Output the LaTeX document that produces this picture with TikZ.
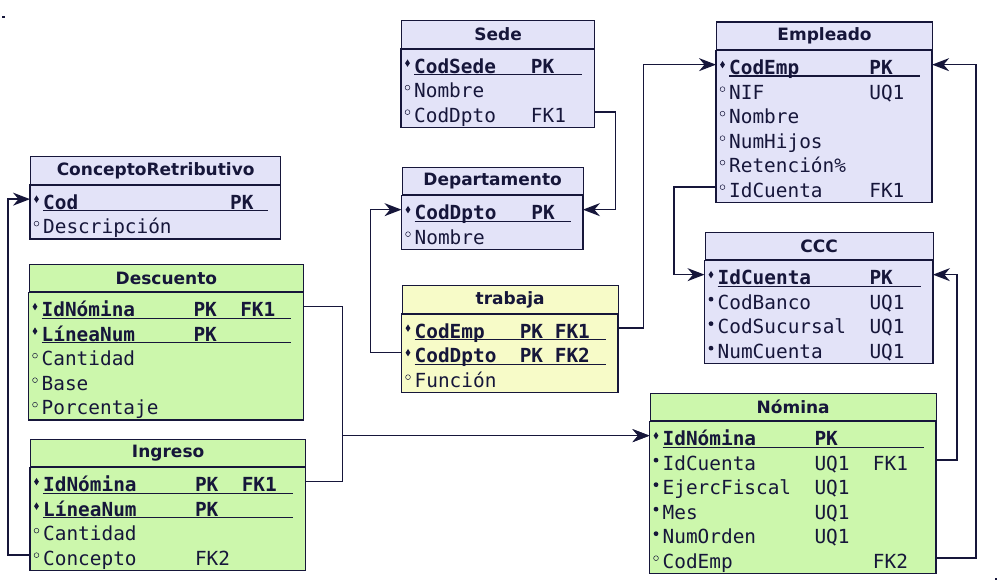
\documentclass[tikz,border=0pt]{standalone}
\usepackage{fontspec}
\usepackage{tikz}
\usetikzlibrary{calc,arrows.meta,shapes.geometric,backgrounds}
\newfontfamily\ttlfont{DejaVu Sans}
\newfontfamily\rowfnt{DejaVu Sans Mono}
\definecolor{ink}{HTML}{16163A}
\definecolor{lav}{HTML}{E3E3F8}
\definecolor{mint}{HTML}{CCF7AC}
\definecolor{lemon}{HTML}{F7FBC8}
\newlength\chw
\setlength\chw{11.68pt}
\tikzset{
  hdr/.style={draw=ink, line width=1.3pt, inner sep=0pt, minimum height=27.7pt, anchor=north west,
    text=ink, font=\ttlfont\bfseries\fontsize{17}{20}\selectfont},
  body/.style={draw=ink, line width=1.3pt},
  row/.style={inner sep=0pt, text height=22.25pt, text depth=2.25pt, align=left, anchor=north west,
    text=ink, font=\rowfnt\fontsize{19.4}{24.5}\selectfont},
  row p/.style={font=\rowfnt\bfseries\fontsize{19.4}{24.5}\selectfont},
  row n/.style={}, row o/.style={},
  mk p/.style={diamond, fill=ink, inner sep=0pt, minimum width=5pt, minimum height=7.5pt},
  mk n/.style={circle, fill=ink, inner sep=0pt, minimum size=4.8pt},
  mk o/.style={circle, draw=ink, line width=0.5pt, inner sep=0pt, minimum size=4.8pt},
  ul p/.style={draw=ink, line width=1.3pt},
  ul n/.style={}, ul o/.style={},
  fk/.style={draw=ink, line width=1.5pt, -{Stealth[length=17pt, width=13pt, inset=5.5pt]}},
}
% table: name, left, top, width, title, fill, col 2, col 3, rows
\newcommand{\ertable}[9]{%
  \node[hdr, fill=#6, minimum width=#4pt] (#1) at (#2,#3) {#5};
  \foreach \mk/\nm/\ca/\cb [count=\i] in {#9}{
    \node[row, row \mk, text width=#4pt] (#1-\i) at (#2,{#3+30.7+(\i-1)*24.5})
      {\hspace*{13pt}\makebox[#7\chw][l]{\nm}\makebox[\dimexpr\numexpr#8-#7\relax\chw\relax][l]{\ca}\cb};
    \node[mk \mk] at ($(#1-\i.west)+(6.5,0)$) {};
    \path[ul \mk] ($(#1-\i.base west)+(13,1.5)$) -- ($(#1-\i.base east)+(-12,1.5)$);
    \xdef\lastrow{\i}
  }
  \begin{pgfonlayer}{background}
    \path[body, fill=#6] (#1.south west) rectangle ($(#1-\lastrow.south east)+(0,2.8)$);
  \end{pgfonlayer}
}

\begin{document}
\begin{tikzpicture}[x=1pt, y=-1pt]
  \useasboundingbox (0,0) rectangle (1000,583);
  \fill[ink] (2.3,15.8) rectangle (4.8,18.5);
  \fill[ink] (994.8,577.6) rectangle (997.3,580.2);

  \ertable{cr}{30}{156}{250}{ConceptoRetributivo}{lav}{16}{18}{
    p/Cod/PK/{}, o/Descripción/{}/{}}
  \ertable{desc}{28.5}{263.5}{274.5}{Descuento}{mint}{13}{17}{
    p/IdNómina/PK/FK1, p/LíneaNum/PK/{}, o/Cantidad/{}/{}, o/Base/{}/{}, o/Porcentaje/{}/{}}
  \ertable{ingr}{30}{438.5}{275}{Ingreso}{mint}{13}{17}{
    p/IdNómina/PK/FK1, p/LíneaNum/PK/{}, o/Cantidad/{}/{}, o/Concepto/FK2/{}}
  \ertable{sede}{401}{20}{193}{Sede}{lav}{10}{13}{
    p/CodSede/PK/{}, o/Nombre/{}/{}, o/CodDpto/FK1/{}}
  \ertable{dpto}{401.5}{166.5}{181}{Departamento}{lav}{10}{13}{
    p/CodDpto/PK/{}, o/Nombre/{}/{}}
  \ertable{trab}{401.5}{285}{216}{trabaja}{lemon}{9}{12}{
    p/CodEmp/PK/FK1, p/CodDpto/PK/FK2, o/Función/{}/{}}
  \ertable{emp}{716}{21.5}{215.7}{Empleado}{lav}{12}{15}{
    p/CodEmp/PK/{}, o/NIF/UQ1/{}, o/Nombre/{}/{}, o/NumHijos/{}/{}, o/Retención\%/{}/{}, o/IdCuenta/FK1/{}}
  \ertable{ccc}{704.5}{231.5}{228}{CCC}{lav}{13}{16}{
    p/IdCuenta/PK/{}, n/CodBanco/UQ1/{}, n/CodSucursal/UQ1/{}, n/NumCuenta/UQ1/{}}
  \ertable{nom}{649.5}{392.5}{286}{Nómina}{mint}{13}{18}{
    p/IdNómina/PK/{}, n/IdCuenta/UQ1/FK1, n/EjercFiscal/UQ1/{}, n/Mes/UQ1/{}, n/NumOrden/UQ1/{}, o/CodEmp/{}/FK2}

  % foreign keys
  \draw[fk] (sede-3.east) -- ++(21,0) |- (dpto-1.east);
  \draw[fk] (trab-2.west) -- ++(-31,0) |- (dpto-1.west);
  \draw[fk] (trab-1.east) -- ++(25.5,0) |- (emp-1.west);
  \draw[fk] (emp-6.west) -- ++(-42,0) |- (ccc-1.west);
  \draw[fk] (nom-2.east) -- ++(21,0) |- (ccc-1.east);
  \draw[fk] (nom-6.east) -- ++(40,0) |- (emp-1.east);
  \draw[fk] (desc-1.east) -- ++(39,0) |- (nom-1.west);
  \draw[fk] (ingr-1.east) -- ++(37,0) |- (nom-1.west);
  \draw[fk] (ingr-4.west) -- ++(-22,0) |- (cr-1.west);
\end{tikzpicture}
\end{document}
